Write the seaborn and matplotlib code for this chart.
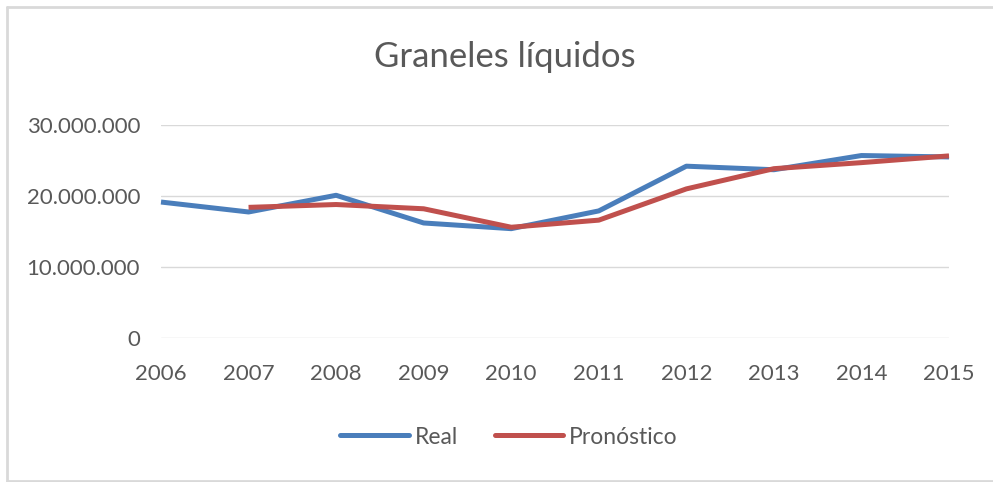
import numpy as np
import pandas as pd
import matplotlib
matplotlib.use("Agg")
import matplotlib.pyplot as plt
import seaborn as sns
from matplotlib.ticker import FuncFormatter

# ===== 数据 =====
years = [2006, 2007, 2008, 2009, 2010, 2011, 2012, 2013, 2014, 2015]
real = [19150000, 17750000, 20100000, 16200000, 15400000, 17900000, 24200000, 23700000, 25700000, 25500000]
pronostico = [np.nan, 18400000, 18800000, 18200000, 15600000, 16600000, 21000000, 23850000, 24700000, 25650000]
series_names = ["Real", "Pronóstico"]
colors = ["#4A7EBB", "#C0504D"]
y_ticks = [0, 10000000, 20000000, 30000000]

df = pd.DataFrame({"Año": years * 2,
                   "Valor": real + pronostico,
                   "Serie": [series_names[0]] * len(years) + [series_names[1]] * len(years)})

sns.set_theme(style="white")
plt.rcParams["font.family"] = ["Lato", "DejaVu Sans"]
gray = "#595959"

fig = plt.figure(figsize=(9.93, 4.82), dpi=100)
ax = fig.add_axes([161 / 993, 1 - 338 / 482, (949 - 161) / 993, (338 - 125) / 482])

sns.lineplot(data=df, x="Año", y="Valor", hue="Serie", palette=colors,
             hue_order=series_names, linewidth=3.6, ax=ax, legend=False)
for ln in ax.lines:
    ln.set_solid_capstyle("butt")
    ln.set_clip_on(False)

ax.set_xlim(years[0], years[-1])
ax.set_ylim(0, 30000000)
ax.set_xticks(years)
ax.set_yticks(y_ticks)
ax.yaxis.set_major_formatter(FuncFormatter(lambda v, p: f"{int(v):,}".replace(",", ".")))
ax.grid(axis="y", color="#D9D9D9", linewidth=1)
ax.grid(axis="x", visible=False)
for s in ax.spines.values():
    s.set_visible(False)
ax.tick_params(axis="y", length=0, pad=15, labelsize=16, labelcolor=gray)
ax.tick_params(axis="x", length=0, pad=19, labelsize=16, labelcolor=gray)
ax.set_xlabel("")
ax.set_ylabel("")

fig.text(505 / 993, 1 - 57 / 482, "Graneles líquidos", ha="center", va="center",
         fontsize=25, color=gray)

handles = [plt.Line2D([], [], color=c, linewidth=3.6) for c in colors]
fig.legend(handles, series_names, loc="center", bbox_to_anchor=(509 / 993, 1 - 437 / 482),
           ncol=2, frameon=False, fontsize=16.5, labelcolor=gray, handlelength=3.0,
           handletextpad=0.25, columnspacing=1.6)

# 外框（左、上、下）
border = "#D9D9D9"
fig.add_artist(plt.Line2D([7 / 993, 7 / 993], [1 / 482, 1 - 7 / 482], transform=fig.transFigure,
                          color=border, linewidth=2))
fig.add_artist(plt.Line2D([7 / 993, 1], [1 - 7 / 482, 1 - 7 / 482], transform=fig.transFigure,
                          color=border, linewidth=2))
fig.add_artist(plt.Line2D([7 / 993, 1], [1 / 482, 1 / 482], transform=fig.transFigure,
                          color=border, linewidth=2))

fig.savefig("out.png", dpi=100)
